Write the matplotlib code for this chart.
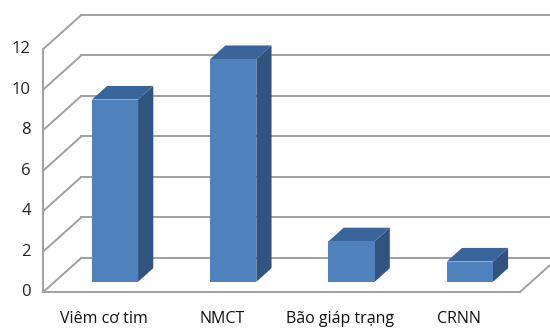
import numpy as np
import matplotlib
matplotlib.use('Agg')
import matplotlib.pyplot as plt
from matplotlib.patches import Polygon

# DATOS
categorias = ['Viêm cơ tim', 'NMCT', 'Bão giáp trạng', 'CRNN']
valores = [9, 11, 2, 1]
ticks_y = [0, 2, 4, 6, 8, 10, 12]

# proyeccion oblicua (profundidad completa en unidades de datos)
prof_x = 0.321
prof_y = 1.68
x_ini, x_fin = -0.51, 3.52
ancho = 0.39
d_frente, d_fondo = 0.3, 0.7

c_frente = '#4F81BD'
c_arriba = '#3A659B'
c_lado = '#30537F'
c_grid = '#A0A0A0'

def proy(x, y, d):
    return (x + d * prof_x, y + d * prof_y)

fig = plt.figure(figsize=(5.5, 3.29), dpi=100)
ax = fig.add_axes([0, 0, 1, 1])
ax.set_xlim(-0.876, 3.774)
ax.set_ylim(-1.827, 14.42)
ax.axis('off')

# paredes y rejilla
for t in ticks_y:
    a = proy(x_ini, t, 0)
    b = proy(x_ini, t, 1)
    c = proy(x_fin + 0.5, t, 1)
    ax.plot([a[0], b[0]], [a[1], b[1]], color=c_grid, lw=1.4, zorder=1)
    ax.plot([b[0], c[0]], [b[1], c[1]], color=c_grid, lw=1.4, zorder=1)
    ax.text(x_ini - 0.105, t, str(t), ha='right', va='center',
            fontsize=12, family='Open Sans', color='#222222')

ax.plot([x_ini, x_ini], [0, ticks_y[-1]], color=c_grid, lw=1.4, zorder=1)
ax.plot([x_ini, x_fin], [0, 0], color=c_grid, lw=1.4, zorder=1)
p = proy(x_fin, 0, 1)
ax.plot([x_fin, p[0]], [0, p[1]], color=c_grid, lw=1.4, zorder=1)

# barras
for i, v in enumerate(valores):
    x0 = i - ancho / 2
    x1 = i + ancho / 2
    f = [proy(x0, 0, d_frente), proy(x1, 0, d_frente),
         proy(x1, v, d_frente), proy(x0, v, d_frente)]
    arriba = [proy(x0, v, d_frente), proy(x1, v, d_frente),
              proy(x1, v, d_fondo), proy(x0, v, d_fondo)]
    lado = [proy(x1, 0, d_frente), proy(x1, 0, d_fondo),
            proy(x1, v, d_fondo), proy(x1, v, d_frente)]
    ax.add_patch(Polygon(lado, closed=True, fc=c_lado, ec='none', zorder=3))
    ax.add_patch(Polygon(arriba, closed=True, fc=c_arriba, ec='none', zorder=3))
    ax.add_patch(Polygon(f, closed=True, fc=c_frente, ec='none', zorder=4))
    ax.text(i, -1.35, categorias[i], ha='center', va='center',
            fontsize=11.5, family='Open Sans', color='#111111')

fig.savefig('out.png', dpi=100)
